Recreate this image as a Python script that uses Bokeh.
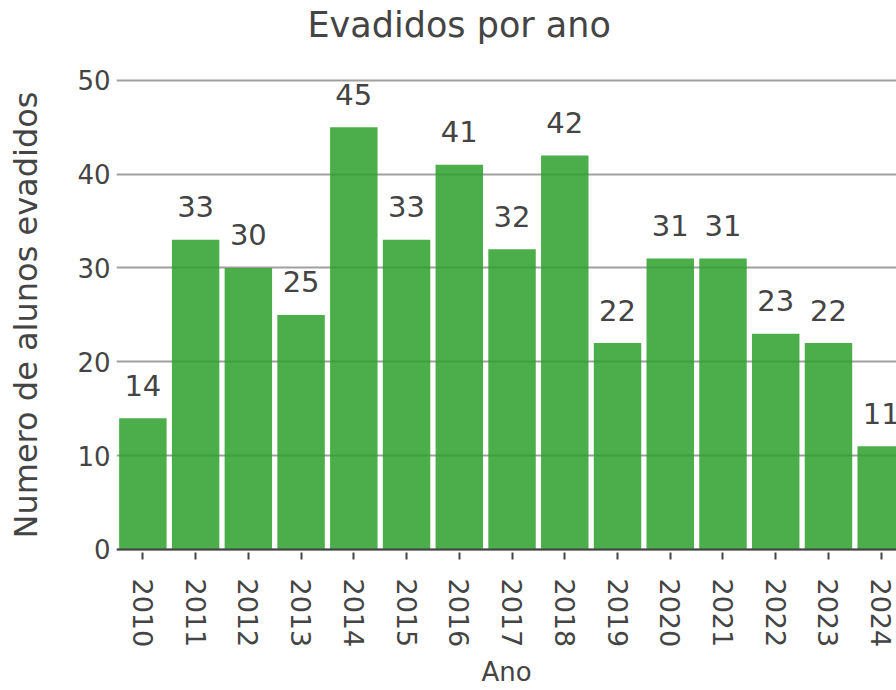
import math
from bokeh.plotting import figure
from bokeh.models import ColumnDataSource, FixedTicker, Span, Range1d, Title
from bokeh.core.properties import value
from bokeh.embed import file_html
from bokeh.resources import INLINE

years = [2010, 2011, 2012, 2013, 2014, 2015, 2016, 2017, 2018, 2019, 2020, 2021, 2022, 2023, 2024]
evadidos = [14, 33, 30, 25, 45, 33, 41, 32, 42, 22, 31, 31, 23, 22, 11]
labels = [str(v) for v in evadidos]
title_text = "Evadidos por ano"

FONT = "DejaVu Sans"
TXT = "#444444"

src = ColumnDataSource(dict(x=years, y=evadidos, label=labels))

p = figure(width=896, height=690, output_backend="svg", toolbar_location=None,
           x_range=Range1d(2009.5, 2024.29), y_range=Range1d(-0.32, 50.3),
           min_border_left=116, min_border_right=0, min_border_top=77, min_border_bottom=138)
p.outline_line_color = None
p.background_fill_color = "white"

# spacer between frame and title
p.add_layout(Title(text=" ", text_font_size="1px", standoff=28), "above")
p.add_layout(Title(text=title_text, align="left", offset=191, standoff=4,
                   text_font=FONT, text_font_size="35px", text_font_style="normal",
                   text_color=TXT), "above")

p.vbar(x="x", top="y", width=0.9, bottom=0, source=src,
       fill_color="#2ca02c", fill_alpha=0.85, line_color=None)

p.text(x="x", y="y", text="label", source=src, text_align="center",
       text_baseline="alphabetic", y_offset=-33,
       text_font=value(FONT), text_font_size="29px", text_color=TXT)

p.add_layout(Span(location=0, dimension="width", line_color="#444444", line_width=2))

p.xgrid.grid_line_color = None
p.ygrid.grid_line_color = "#a0a0a0"
p.ygrid.grid_line_width = 2

p.xaxis.ticker = FixedTicker(ticks=years)
p.xaxis.major_label_orientation = -math.pi / 2
p.xaxis.axis_line_color = None
p.xaxis.major_tick_out = 7
p.xaxis.major_tick_in = 0
p.xaxis.major_tick_line_color = "#444444"
p.xaxis.major_tick_line_width = 2
p.xaxis.minor_tick_line_color = None
p.xaxis.major_label_standoff = 19
p.xaxis.axis_label = "Ano"
p.xaxis.axis_label_standoff = 7

p.yaxis.ticker = FixedTicker(ticks=[0, 10, 20, 30, 40, 50])
p.yaxis.axis_line_color = None
p.yaxis.major_tick_line_color = None
p.yaxis.minor_tick_line_color = None
p.yaxis.major_tick_out = 0
p.yaxis.major_label_standoff = 6
p.yaxis.axis_label = "Numero de alunos evadidos"
p.yaxis.axis_label_standoff = 29

for ax in (p.xaxis, p.yaxis):
    ax.major_label_text_font = FONT
    ax.major_label_text_color = TXT
    ax.axis_label_text_font = FONT
    ax.axis_label_text_font_style = "normal"
    ax.axis_label_text_color = TXT
p.xaxis.major_label_text_font_size = "27px"
p.yaxis.major_label_text_font_size = "26px"
p.xaxis.axis_label_text_font_size = "26px"
p.yaxis.axis_label_text_font_size = "32px"

open("out.html", "w").write(file_html(p, INLINE))
